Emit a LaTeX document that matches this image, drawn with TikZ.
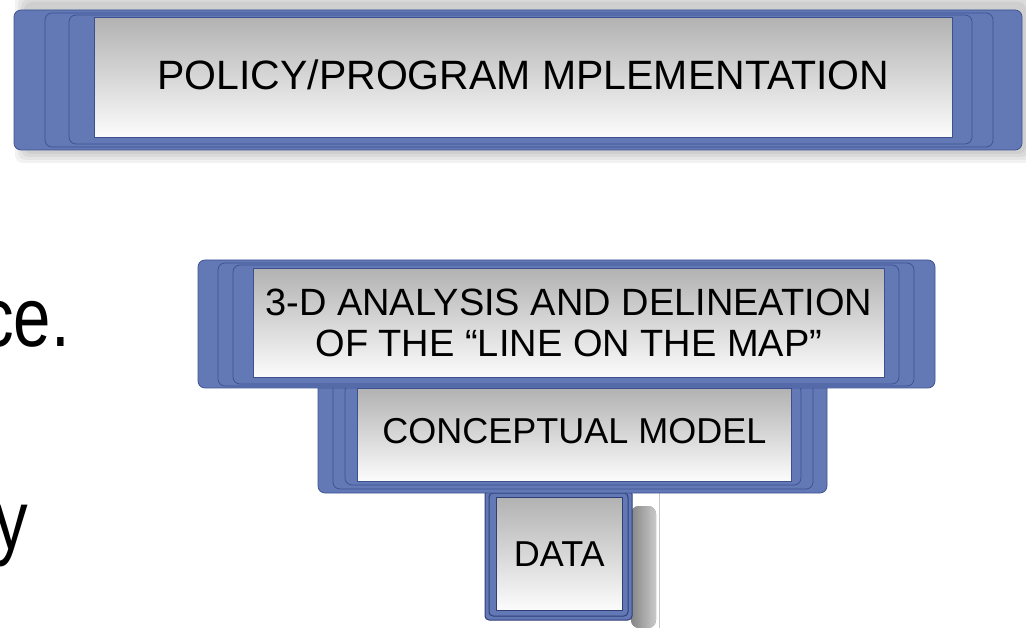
\documentclass[tikz,border=0pt]{standalone}
\usepackage{fontspec}
\setmainfont{Liberation Sans}
\definecolor{bblue}{RGB}{99,121,182}
\definecolor{bdark}{RGB}{60,80,145}
\definecolor{bnavy}{RGB}{48,62,118}
\definecolor{pgray}{RGB}{178,178,178}
\definecolor{pwhite}{RGB}{252,252,252}
\begin{document}
\begin{tikzpicture}[x=1pt,y=-1pt,
  layer/.style={fill=bblue,draw=bdark,line width=0.7pt,rounded corners=7pt},
  panel/.style={top color=pgray,bottom color=pwhite,draw=bdark,line width=0.6pt,inner sep=0pt,align=center},
  shade/.style={fill=black,opacity=0.05,rounded corners=8pt}]
\useasboundingbox (0,0) rectangle (1026,628);
\clip (0,0) rectangle (1026,628);

% ---------- top box ----------
\foreach \d in {0,3,6,9}{
  \fill[shade] (24-\d,2-\d) rectangle (1026+\d,154+\d);
}
\draw[layer] (14,10) rectangle (1022,150);
\draw[layer] (45,13) rectangle (993,147);
\draw[layer] (69,15) rectangle (972,144);
\node[panel,minimum width=858pt,minimum height=120pt,anchor=north west,
      font=\fontsize{41}{46}\selectfont] (pol) at (94,17)
  {\raisebox{6pt}{POLICY/PROGRAM MPLEMENTATION}};

% ---------- DATA box ----------
\shade[left color=black!38,right color=white,opacity=0.7] (631,506) rectangle (656,628);
\draw[black!22,line width=1pt] (659,490) -- (659,628);
\draw[layer,draw=bnavy,line width=1pt,rounded corners=4pt] (485,490) rectangle (632,620);
\draw[layer,draw=bnavy,line width=1pt,rounded corners=4pt] (489,493) rectangle (628,616);
\node[panel,draw=bnavy,minimum width=126pt,minimum height=113pt,anchor=north west,
      font=\fontsize{36}{40}\selectfont] (dat) at (496,497)
  {DATA};

% ---------- conceptual model box ----------
\draw[layer] (318,380) rectangle (827,493);
\draw[layer] (333,382) rectangle (813,489);
\draw[layer] (345,384) rectangle (801,485);
\node[panel,minimum width=434pt,minimum height=93pt,anchor=north west,
      font=\fontsize{36}{40}\selectfont] (con) at (357,388)
  {\raisebox{8pt}{CONCEPTUAL MODEL}};

% ---------- 3-D analysis box ----------
\draw[layer] (198,260) rectangle (935,388);
\draw[layer] (218,263) rectangle (914,386);
\draw[layer] (233,265) rectangle (899,384);
\node[panel,minimum width=631pt,minimum height=109pt,anchor=north west,
      font=\fontsize{38}{41}\selectfont] (ana) at (253,268)
  {3-D ANALYSIS AND DELINEATION\\OF THE “LINE ON THE MAP”};

% ---------- cut-off text on the left ----------
\node[anchor=base east,inner sep=0pt,xscale=0.8] (ce) at (70,347)
  {\fontsize{84}{90}\selectfont ce.};
\node[anchor=base east,inner sep=0pt,xscale=0.8] (yy) at (28,549)
  {\fontsize{84}{90}\selectfont y};
\end{tikzpicture}
\end{document}
